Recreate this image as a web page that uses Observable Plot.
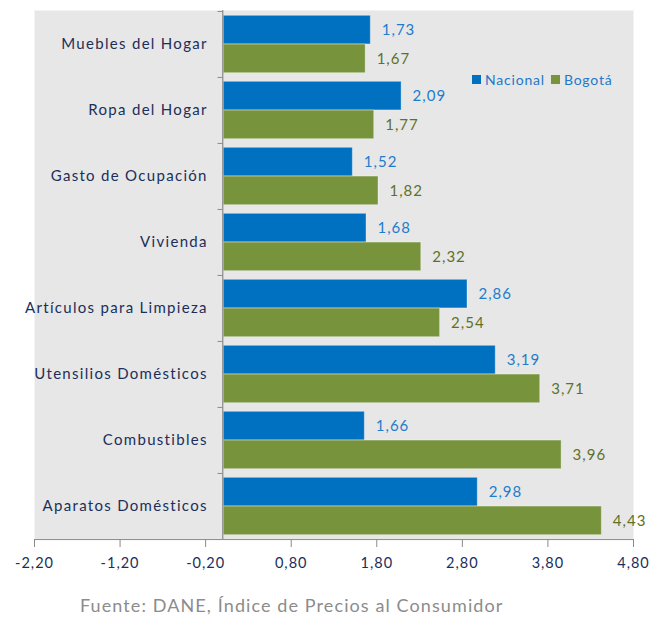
<!DOCTYPE html>
<html>
<head>
<meta charset="utf-8">
<script src="https://cdn.jsdelivr.net/npm/d3@7"></script>
<script src="https://cdn.jsdelivr.net/npm/@observablehq/plot@0.6"></script>
<style>
  body { margin: 0; background: #fff; font-family: Lato, "Open Sans", sans-serif; }
  #wrap { position: relative; width: 660px; }
  #legend { position: absolute; left: 472px; top: 71px; font-size: 14px; letter-spacing: 0.8px; color: #1f78c8; display: flex; align-items: center; }
  #legend .sw { display: inline-block; width: 9px; height: 9px; margin-right: 4px; }
  #caption { margin-top: 24px; padding-left: 80px; font-size: 18px; letter-spacing: 1.1px; color: #8c8c8c; }
  #chart svg text { letter-spacing: 1px; }
  #chart svg g.catlab text { letter-spacing: 1.3px; }
</style>
</head>
<body>
<div id="wrap">
  <div id="chart"></div>
  <div id="legend">
    <span class="sw" style="background:#0070C0"></span><span style="margin-right:6px">Nacional</span>
    <span class="sw" style="background:#77933C"></span><span>Bogotá</span>
  </div>
  <div id="caption">Fuente: DANE, Índice de Precios al Consumidor</div>
</div>
<script>
const categories = ["Muebles del Hogar","Ropa del Hogar","Gasto de Ocupación","Vivienda","Artículos para Limpieza","Utensilios Domésticos","Combustibles","Aparatos Domésticos"];
const nacional = [1.73,2.09,1.52,1.68,2.86,3.19,1.66,2.98];
const bogota = [1.67,1.77,1.82,2.32,2.54,3.71,3.96,4.43];
const xTicks = [-2.2,-1.2,-0.2,0.8,1.8,2.8,3.8,4.8];

const fmt = d => d.toFixed(2).replace(".", ",");
const nac = categories.map((c, i) => ({cat: c, v: nacional[i]}));
const bog = categories.map((c, i) => ({cat: c, v: bogota[i]}));

const H = 570, mT = 10, mB = 31;
const bw = (H - mT - mB) / categories.length;
const half = bw / 2;
const outer = 4.3;

const chart = Plot.plot({
  width: 660,
  height: H,
  marginTop: mT,
  marginBottom: mB,
  marginLeft: 34,
  marginRight: 27,
  style: {fontFamily: "Lato, 'Open Sans', sans-serif", fontSize: "14px", background: "transparent"},
  x: {domain: [-2.2, 4.8], axis: null},
  y: {domain: categories, padding: 0, axis: null},
  marks: [
    Plot.frame({fill: "#e7e7e7", stroke: "none"}),
    Plot.barX(nac, {x1: 0, x2: "v", y: "cat", fill: "#0070C0", insetTop: outer, insetBottom: half, insetLeft: 1, stroke: "#ffffff", strokeOpacity: 0.35}),
    Plot.barX(bog, {x1: 0, x2: "v", y: "cat", fill: "#77933C", insetTop: half, insetBottom: outer, insetLeft: 1, stroke: "#ffffff", strokeOpacity: 0.35}),
    Plot.text(nac, {x: "v", y: "cat", text: d => fmt(d.v), dx: 11, dy: -(half - outer) / 2, textAnchor: "start", fill: "#1f7ccb", fontSize: 15}),
    Plot.text(bog, {x: "v", y: "cat", text: d => fmt(d.v), dx: 11, dy: (half - outer) / 2, textAnchor: "start", fill: "#5d7228", fontSize: 15}),
    Plot.text(categories, {x: 0, y: d => d, text: d => d, dx: -15, textAnchor: "end", fill: "#1b2f5a", fontSize: 15, className: "catlab"}),
    Plot.ruleX([0], {stroke: "#8a8a8a", strokeWidth: 1.2}),
    Plot.ruleY(categories, {y: d => d, x1: -0.055, x2: 0, dy: -half, stroke: "#8a8a8a"}),
    Plot.ruleY([categories[categories.length - 1]], {y: d => d, dy: half, stroke: "#8a8a8a"}),
    Plot.axisX(xTicks, {tickFormat: fmt, tickSize: 8, tickPadding: 10, label: null, stroke: "#8a8a8a", fill: "#1b2f5a", fontSize: 14.5})
  ]
});
document.getElementById("chart").appendChild(chart);
</script>
</body>
</html>
